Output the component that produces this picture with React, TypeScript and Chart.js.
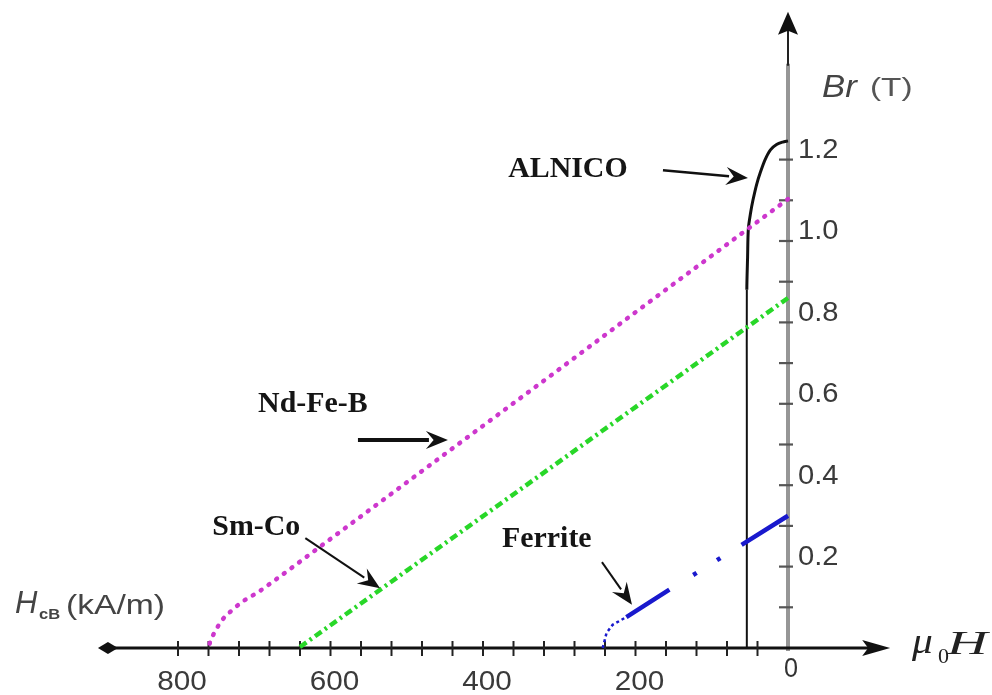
import { useEffect, useRef } from 'react';
import { Chart, registerables } from 'chart.js';

Chart.register(...registerables);

// ---- data (H in kA/m, B in T) ----
const ndfebH = [0, 100, 200, 300, 400, 500, 600, 680, 696, 716, 729, 742, 751, 758, 760];
const ndfebB = [1.103, 0.964, 0.825, 0.685, 0.546, 0.407, 0.268, 0.157, 0.136, 0.113, 0.093, 0.069, 0.042, 0.014, 0];

const smcoH = [0, 100, 200, 300, 400, 500, 600, 642];
const smcoB = [0.86, 0.726, 0.592, 0.458, 0.324, 0.19, 0.056, 0];

const ferriteH = [243, 238, 230, 212, 155, 122, 92, 63, 0];
const ferriteB = [0, 0.037, 0.057, 0.076, 0.144, 0.182, 0.217, 0.251, 0.325];

const alnicoH = [54, 54, 54, 53, 52, 49, 46, 41, 36, 30, 23, 15, 7, 0];
const alnicoB = [0, 0.6, 0.88, 0.96, 1.03, 1.07, 1.1, 1.14, 1.17, 1.2, 1.224, 1.237, 1.243, 1.246];

// ---- axes ----
const xTickMarks = [40, 80, 120, 160, 200, 240, 280, 320, 360, 400, 440, 480, 520, 560, 600, 640, 680, 720, 760, 800];
const xTickLabelValues = [800, 600, 400, 200];
const xTickLabels = ['800', '600', '400', '200'];
const yTickMarks = [0.1, 0.2, 0.3, 0.4, 0.5, 0.6, 0.7, 0.8, 0.9, 1.0, 1.1, 1.2];
const yTickLabelValues = [0.2, 0.4, 0.6, 0.8, 1.0, 1.2];
const yTickLabels = ['0.2', '0.4', '0.6', '0.8', '1.0', '1.2'];

// ---- annotations (data coords) ----
const annLabels = ['ALNICO', 'Nd-Fe-B', 'Sm-Co', 'Ferrite'];
const annLabelH = [367, 695, 755, 375];
const annLabelB = [1.157, 0.58, 0.278, 0.248];
const annFromH = [164, 564, 633, 244];
const annFromB = [1.174, 0.511, 0.27, 0.211];
const annToH = [52.5, 446, 535, 204.6];
const annToB = [1.155, 0.511, 0.147, 0.106];
const annLineWidth = [2.5, 4, 2, 2];

const toXY = (hs: number[], bs: number[]) => hs.map((h, i) => ({ x: h, y: bs[i] }));

function txt(ctx: CanvasRenderingContext2D, s: string, px: number, py: number, font: string, color: string,
  align: CanvasTextAlign = 'left', baseline: CanvasTextBaseline = 'alphabetic', sx = 1) {
  ctx.save();
  ctx.translate(px, py);
  ctx.scale(sx, 1);
  ctx.font = font;
  ctx.fillStyle = color;
  ctx.textAlign = align;
  ctx.textBaseline = baseline;
  ctx.fillText(s, 0, 0);
  ctx.restore();
}

function arrow(ctx: CanvasRenderingContext2D, x1: number, y1: number, x2: number, y2: number,
  lw: number, headLen: number, headHalf: number, color: string) {
  const ang = Math.atan2(y2 - y1, x2 - x1);
  const c = Math.cos(ang), s = Math.sin(ang);
  const bx = x2 - headLen * c, by = y2 - headLen * s;
  ctx.save();
  ctx.setLineDash([]);
  ctx.strokeStyle = color;
  ctx.fillStyle = color;
  ctx.lineWidth = lw;
  ctx.beginPath();
  ctx.moveTo(x1, y1);
  ctx.lineTo(bx + 3 * c, by + 3 * s);
  ctx.stroke();
  ctx.beginPath();
  ctx.moveTo(x2, y2);
  ctx.lineTo(bx + headHalf * s, by - headHalf * c);
  ctx.lineTo(bx + 0.35 * headLen * c, by + 0.35 * headLen * s);
  ctx.lineTo(bx - headHalf * s, by + headHalf * c);
  ctx.closePath();
  ctx.fill();
  ctx.restore();
}

const figurePlugin = {
  id: 'figurePlugin',
  beforeDatasetsDraw(chart: any) {
    const { ctx, scales } = chart;
    const xs = scales.x, ys = scales.y;
    const x0 = xs.getPixelForValue(0);
    const y0 = ys.getPixelForValue(0);
    const xLeft = xs.getPixelForValue(905);
    const xTip = xs.getPixelForValue(-134);
    const yTip = ys.getPixelForValue(1.563);
    ctx.save();
    // y axis (gray)
    ctx.strokeStyle = 'rgb(150,150,150)';
    ctx.lineWidth = 4;
    ctx.beginPath();
    ctx.moveTo(x0, y0 + 3);
    ctx.lineTo(x0, yTip + 52);
    ctx.stroke();
    ctx.strokeStyle = '#222';
    ctx.lineWidth = 2;
    ctx.beginPath();
    ctx.moveTo(x0, yTip + 54);
    ctx.lineTo(x0, yTip + 15);
    ctx.stroke();
    ctx.fillStyle = '#111';
    ctx.beginPath();
    ctx.moveTo(x0, yTip);
    ctx.lineTo(x0 + 10, yTip + 23);
    ctx.lineTo(x0, yTip + 19);
    ctx.lineTo(x0 - 10, yTip + 23);
    ctx.closePath();
    ctx.fill();
    // y ticks
    ctx.strokeStyle = '#555';
    ctx.lineWidth = 2.2;
    yTickMarks.forEach((v) => {
      const py = ys.getPixelForValue(v);
      ctx.beginPath();
      ctx.moveTo(x0 - 9, py);
      ctx.lineTo(x0 + 5, py);
      ctx.stroke();
    });
    // x axis
    ctx.strokeStyle = '#111';
    ctx.lineWidth = 3;
    ctx.beginPath();
    ctx.moveTo(xLeft + 6, y0);
    ctx.lineTo(xTip - 20, y0);
    ctx.stroke();
    ctx.fillStyle = '#111';
    ctx.beginPath();
    ctx.moveTo(xTip, y0);
    ctx.lineTo(xTip - 28, y0 - 8);
    ctx.lineTo(xTip - 22, y0);
    ctx.lineTo(xTip - 28, y0 + 8);
    ctx.closePath();
    ctx.fill();
    ctx.beginPath();
    ctx.moveTo(xLeft, y0);
    ctx.lineTo(xLeft + 10, y0 - 6);
    ctx.lineTo(xLeft + 20, y0);
    ctx.lineTo(xLeft + 10, y0 + 6);
    ctx.closePath();
    ctx.fill();
    // x ticks
    ctx.strokeStyle = '#222';
    ctx.lineWidth = 2;
    xTickMarks.forEach((v) => {
      const px = xs.getPixelForValue(v);
      ctx.beginPath();
      ctx.moveTo(px, y0 - 7);
      ctx.lineTo(px, y0 + 8);
      ctx.stroke();
    });
    ctx.restore();
  },
  afterDatasetsDraw(chart: any) {
    const { ctx, scales } = chart;
    const xs = scales.x, ys = scales.y;
    const x0 = xs.getPixelForValue(0);
    const y0 = ys.getPixelForValue(0);
    const sans = "'Liberation Sans', Arial, sans-serif";
    const serif = "'Liberation Serif', 'Times New Roman', serif";
    // x tick labels
    xTickLabelValues.forEach((v, i) => {
      txt(ctx, xTickLabels[i], xs.getPixelForValue(v) + 4, y0 + 35, `27px ${sans}`, '#3a3a3a', 'center', 'middle', 1.1);
    });
    txt(ctx, '0', x0 + 3, y0 + 21, `28px ${sans}`, '#333', 'center', 'middle', 0.9);
    // y tick labels
    yTickLabelValues.forEach((v, i) => {
      txt(ctx, yTickLabels[i], x0 + 10, ys.getPixelForValue(v) - 9, `27px ${sans}`, '#3a3a3a', 'left', 'middle', 1.08);
    });
    // axis titles
    txt(ctx, 'Br', x0 + 34, 97, `italic 31px ${sans}`, '#444', 'left', 'alphabetic', 1.12);
    txt(ctx, '(T)', x0 + 82, 96, `26px ${sans}`, '#555', 'left', 'alphabetic', 1.28);
    txt(ctx, 'H', 15, 613, `italic 31px ${sans}`, '#444', 'left', 'alphabetic', 1.0);
    txt(ctx, 'cB', 39, 619, `bold 15px ${sans}`, '#444', 'left', 'alphabetic', 1.1);
    txt(ctx, '(kA/m)', 66, 614, `28px ${sans}`, '#444', 'left', 'alphabetic', 1.2);
    txt(ctx, 'μ', 912, 653, `italic 36px ${serif}`, '#222', 'left', 'alphabetic', 1.15);
    txt(ctx, '0', 938, 663, `22px ${serif}`, '#222', 'left', 'alphabetic', 1.0);
    txt(ctx, 'H', 947, 654, `italic 33px ${serif}`, '#222', 'left', 'alphabetic', 1.7);
    // annotations
    annLabels.forEach((s, i) => {
      txt(ctx, s, xs.getPixelForValue(annLabelH[i]), ys.getPixelForValue(annLabelB[i]),
        `bold 29px ${serif}`, '#151515', 'left', 'alphabetic', 1.03);
      arrow(ctx, xs.getPixelForValue(annFromH[i]), ys.getPixelForValue(annFromB[i]),
        xs.getPixelForValue(annToH[i]), ys.getPixelForValue(annToB[i]),
        annLineWidth[i], 22, 9, '#111');
    });
  },
};

export default function App() {
  const ref = useRef<HTMLCanvasElement | null>(null);
  useEffect(() => {
    if (!ref.current) return;
    const chart = new Chart(ref.current, {
      type: 'line',
      data: {
        datasets: [
          {
            label: 'Nd-Fe-B',
            data: toXY(ndfebH, ndfebB),
            borderColor: 'rgb(205,55,205)',
            borderWidth: 4.5,
            borderDash: [1, 8.5],
            borderCapStyle: 'round',
            pointRadius: 0,
            cubicInterpolationMode: 'monotone',
            fill: false,
          },
          {
            label: 'Sm-Co',
            data: toXY(smcoH, smcoB),
            borderColor: 'rgb(40,215,40)',
            borderWidth: 4.5,
            borderDash: [8, 4, 2.5, 4],
            pointRadius: 0,
            tension: 0,
            fill: false,
          },
          {
            label: 'Ferrite',
            data: toXY(ferriteH, ferriteB),
            borderColor: 'rgb(25,25,205)',
            borderWidth: 4.5,
            borderDash: [51, 28, 4, 24, 4, 25, 80, 1],
            pointRadius: 0,
            tension: 0,
            fill: false,
            segment: {
              borderDash: (c: any) => (c.p0DataIndex < 3 ? [3, 3] : undefined),
              borderWidth: (c: any) => (c.p0DataIndex < 3 ? 2.5 : undefined),
            },
          },
          {
            label: 'ALNICO',
            data: toXY(alnicoH, alnicoB),
            borderColor: '#111',
            borderWidth: 2,
            pointRadius: 0,
            tension: 0.3,
            fill: false,
            segment: {
              borderWidth: (c: any) => (c.p0DataIndex >= 2 ? 3 : undefined),
            },
          },
        ],
      },
      options: {
        responsive: false,
        animation: false,
        devicePixelRatio: 1,
        layout: { padding: { left: 101.75, right: 97.25, top: 13.08, bottom: 6.3 } },
        scales: {
          x: { type: 'linear', min: -140, max: 900, reverse: true, display: false },
          y: { type: 'linear', min: -0.1, max: 1.56, display: false },
        },
        plugins: {
          legend: { display: false },
          tooltip: { enabled: false },
          title: { display: false },
        },
        events: [],
      },
      plugins: [figurePlugin],
    } as any);
    return () => chart.destroy();
  }, []);
  return (
    <div style={{ position: 'absolute', left: 0, top: 0, width: 992, height: 695, background: '#fff' }}>
      <canvas ref={ref} width={992} height={695} style={{ display: 'block' }} />
    </div>
  );
}
